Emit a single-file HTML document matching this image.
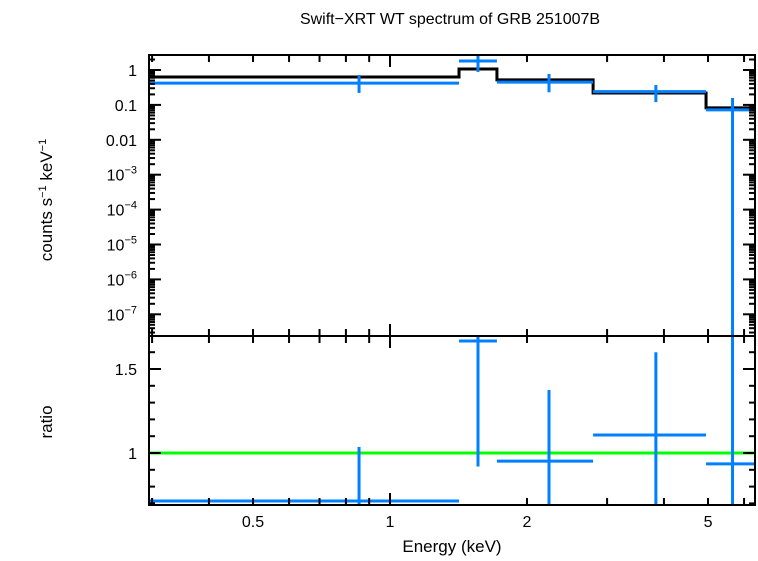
<!DOCTYPE html>
<html><head><meta charset="utf-8"><style>
body{margin:0;background:#fff}
svg text{font-family:"Liberation Sans",sans-serif;fill:#000}
</style></head><body>
<svg id="c" width="758" height="556" xmlns="http://www.w3.org/2000/svg">
<text x="450" y="24" font-size="16" text-anchor="middle">Swift−XRT WT spectrum of GRB 251007B</text>
<text x="452" y="552" font-size="17" text-anchor="middle">Energy (keV)</text>
<text transform="translate(52,200) rotate(-90)" font-size="17" text-anchor="middle">counts s<tspan font-size="11" dy="-6">−1</tspan><tspan dy="6"> keV</tspan><tspan font-size="11" dy="-6">−1</tspan></text>
<text transform="translate(52,422) rotate(-90)" font-size="17" text-anchor="middle">ratio</text>
<g id="g"></g>
</svg>
<script>
const binLo=[0.295,1.418,1.718,2.795,4.95];
const binHi=[1.418,1.718,2.795,4.95,6.34];
const binCen=[0.855,1.561,2.236,3.84,5.66];
const dataVal=[0.42,1.81,0.45,0.24,0.072];
const dataHi=[0.72,2.69,0.77,0.37,0.158];
const dataLo=[0.22,0.88,0.23,0.12,1e-9];
const modelVal=[0.63,1.07,0.52,0.22,0.082];
const ratioVal=[0.714,1.667,0.952,1.107,0.935];
const ratioHi=[1.036,1.75,1.375,1.60,1.8];
const ratioLo=[0.6,0.92,0.6,0.6,0.6];
const xTickLabels=[0.5,1,2,5];
const yTopLabels=["1","0.1","0.01","10−3","10−4","10−5","10−6","10−7"];
const yRatioLabels=[1,1.5];

const L=149,R=755,T=55,M=336,B=505;
const X=e=>390+455*Math.log10(e);
const YT=v=>{let y=70-34.9*Math.log10(v);return Math.max(T,Math.min(M,y));};
const YR=r=>{let y=453-168*(r-1);return Math.max(M,Math.min(B,y));};
const g=document.getElementById('g');const NS='http://www.w3.org/2000/svg';
function el(t,a,p){const e=document.createElementNS(NS,t);for(const k in a)e.setAttribute(k,a[k]);(p||g).appendChild(e);return e;}
function ln(x1,y1,x2,y2,c,w,name){const e=el('line',{x1,y1,x2,y2,stroke:c,'stroke-width':w});

return e;}
// green unity line
ln(L,YR(1),R,YR(1),'#00ff00',3,'unity-line');
// model step
let d='';for(let i=0;i<binLo.length;i++){d+=(i?'L':'M')+X(binLo[i])+','+YT(modelVal[i])+'L'+X(binHi[i])+','+YT(modelVal[i]);}
const mp=el('path',{d,fill:'none',stroke:'#000','stroke-width':3});


// data
for(let i=0;i<binLo.length;i++){
ln(X(binLo[i]),YT(dataVal[i]),X(binHi[i]),YT(dataVal[i]),'#0080ff',3,'data-bin-'+i);
ln(X(binCen[i]),YT(dataHi[i]),X(binCen[i]),YT(dataLo[i]),'#0080ff',3,'data-error-'+i);
ln(X(binLo[i]),YR(ratioVal[i]),X(binHi[i]),YR(ratioVal[i]),'#0080ff',3,'ratio-bin-'+i);
ln(X(binCen[i]),YR(ratioHi[i]),X(binCen[i]),YR(ratioLo[i]),'#0080ff',3,'ratio-error-'+i);
}
// frames
for(const [y1,y2,n] of [[T,M,'top-frame'],[M,B,'bottom-frame']]){
const r=el('rect',{x:L,y:y1,width:R-L,height:y2-y1,fill:'none',stroke:'#000','stroke-width':2});

}
// x ticks
const xt=[0.3,0.4,0.5,0.6,0.7,0.8,0.9,1,2,3,4,5,6];
for(const e of xt){const x=X(e),len=e===1?12:7;
for(const [a,b] of [[T,M],[M,B]]){ln(x,a,x,a+len,'#000',2,'x-tick');ln(x,b,x,b-len,'#000',2,'x-tick');}}
xTickLabels.forEach(v=>{const t=el('text',{x:X(v),y:527,'font-size':16,'text-anchor':'middle'});t.textContent=v;

});
// top y ticks
for(let k=0;k>=-8;k--){for(let m=1;m<10;m++){const v=m*Math.pow(10,k);const y=70-34.9*Math.log10(v);if(y<T||y>M)continue;
const len=m===1?12:6;ln(L,y,L+len,y,'#000',2,'y-tick');ln(R,y,R-len,y,'#000',2,'y-tick');}}
yTopLabels.forEach((s,i)=>{const y=70+34.9*i;const t=el('text',{x:137,y:y+6,'font-size':16,'text-anchor':'end'});
const p=s.split('−');if(p.length>1){t.textContent=p[0];const ts=el('tspan',{'font-size':11,dy:-7},t);ts.textContent='−'+p[1];}else t.textContent=s;

});
// ratio ticks
for(let r=0.7;r<=1.7;r+=0.1){const y=YR(r);const len=Math.abs(r-1)<0.01||Math.abs(r-1.5)<0.01?12:6;
ln(L,y,L+len,y,'#000',2,'ratio-tick');ln(R,y,R-len,y,'#000',2,'ratio-tick');}
yRatioLabels.forEach(v=>{const t=el('text',{x:137,y:YR(v)+6,'font-size':16,'text-anchor':'end'});t.textContent=v;

});
</script>
</body></html>
